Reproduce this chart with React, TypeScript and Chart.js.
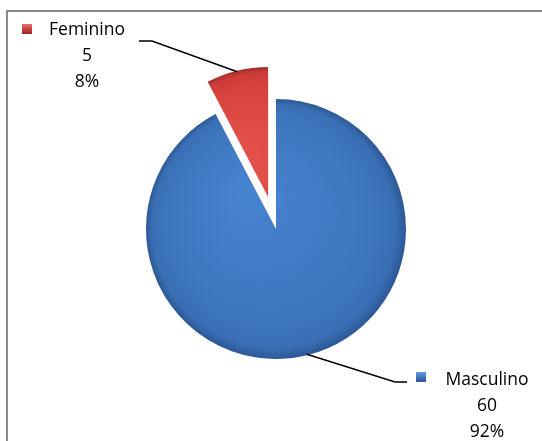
import React, { useEffect, useRef } from 'react';
import { Chart, registerables } from 'chart.js';

Chart.register(...registerables);

// ---- data ----
const categories: string[] = ['Masculino', 'Feminino'];
const values: number[] = [60, 5];

// ---- style ----
const explode: number[] = [0, 33];
const FONT = '17.5px "Open Sans", "Noto Sans", sans-serif';
const LINE_GAP = 26;

const labelLayout = [
  { tx: 487, ty: 385, mx: 416, my: 372, elbowX: 395, elbowY: 382, endX: 407 },
  { tx: 87, ty: 35, mx: 22, my: 24, elbowX: 152, elbowY: 41, endX: 139 },
];

const total = values.reduce((a, b) => a + b, 0);
const midAngle = (i: number) => {
  const before = values.slice(0, i).reduce((a, b) => a + b, 0);
  return -Math.PI / 2 + ((before + values[i] / 2) / total) * Math.PI * 2;
};

function fillFor(ctx: CanvasRenderingContext2D, i: number, cx: number, cy: number, r: number) {
  const g = ctx.createRadialGradient(cx - r * 0.25, cy - r * 0.3, r * 0.05, cx, cy, r);
  if (i === 0) {
    g.addColorStop(0, '#4683cf');
    g.addColorStop(0.75, '#3e76be');
    g.addColorStop(0.93, '#3a6fb4');
    g.addColorStop(1, '#2c5896');
  } else {
    g.addColorStop(0, '#e4524c');
    g.addColorStop(0.75, '#d8433e');
    g.addColorStop(0.93, '#cc3c38');
    g.addColorStop(1, '#a32e2b');
  }
  return g;
}

const explodePlugin = {
  id: 'explodeSlices',
  afterDatasetUpdate(chart: any, args: any) {
    const meta = args.meta;
    meta.data.forEach((el: any, i: number) => {
      const d = explode[i] || 0;
      if (!d) return;
      const a = midAngle(i);
      el.x += Math.cos(a) * d;
      el.y += Math.sin(a) * d;
    });
  },
};

const decorPlugin = {
  id: 'decor',
  afterDraw(chart: any) {
    const ctx: CanvasRenderingContext2D = chart.ctx;
    const meta = chart.getDatasetMeta(0);
    ctx.save();
    // frame
    ctx.strokeStyle = '#8a8a8a';
    ctx.lineWidth = 2;
    ctx.strokeRect(7, 11, 700, 600);

    meta.data.forEach((el: any, i: number) => {
      const lay = labelLayout[i];
      const a = midAngle(i);
      const sx = el.x + Math.cos(a) * (el.outerRadius - 1);
      const sy = el.y + Math.sin(a) * (el.outerRadius - 1);
      // leader line
      ctx.strokeStyle = '#000';
      ctx.lineWidth = 1.5;
      ctx.beginPath();
      ctx.moveTo(sx, sy);
      ctx.lineTo(lay.elbowX, lay.elbowY);
      ctx.lineTo(lay.endX, lay.elbowY);
      ctx.stroke();

      // marker
      const s = 10;
      const g = ctx.createLinearGradient(lay.mx, lay.my, lay.mx, lay.my + s);
      if (i === 0) {
        g.addColorStop(0, '#6b9be0');
        g.addColorStop(0.5, '#3e76be');
        g.addColorStop(1, '#2c5896');
      } else {
        g.addColorStop(0, '#e8706b');
        g.addColorStop(0.5, '#c9403b');
        g.addColorStop(1, '#962a27');
      }
      ctx.fillStyle = g;
      ctx.fillRect(lay.mx, lay.my, s, s);

      // text
      ctx.fillStyle = '#000';
      ctx.font = FONT;
      ctx.textAlign = 'center';
      ctx.textBaseline = 'alphabetic';
      const pct = Math.round((values[i] / total) * 100) + '%';
      const lines = [categories[i], String(values[i]), pct];
      lines.forEach((t, k) => ctx.fillText(t, lay.tx, lay.ty + k * LINE_GAP));
    });
    ctx.restore();
  },
};

export default function App() {
  const ref = useRef<HTMLCanvasElement | null>(null);
  useEffect(() => {
    if (!ref.current) return;
    const chart = new Chart(ref.current, {
      type: 'pie',
      data: {
        labels: categories,
        datasets: [
          {
            data: values,
            borderWidth: 0,
            backgroundColor: (c: any) => {
              const ch = c.chart;
              const area = ch.chartArea;
              const i = c.dataIndex ?? 0;
              if (!area) return i === 0 ? '#3e76be' : '#d8433e';
              const r = Math.min(area.right - area.left, area.bottom - area.top) / 2;
              const a = midAngle(i);
              const d = explode[i] || 0;
              const cx = (area.left + area.right) / 2 + Math.cos(a) * d;
              const cy = (area.top + area.bottom) / 2 + Math.sin(a) * d;
              return fillFor(ch.ctx, i, cx, cy, r);
            },
          },
        ],
      },
      options: {
        animation: false,
        responsive: false,
        layout: { padding: { left: 146, right: 136, top: 99, bottom: 82 } },
        plugins: {
          legend: { display: false },
          tooltip: { enabled: false },
        },
      },
      plugins: [explodePlugin, decorPlugin],
    });
    return () => chart.destroy();
  }, []);
  return (
    <div style={{ position: 'absolute', left: 0, top: 0, width: 542, height: 441, background: '#fff' }}>
      <canvas ref={ref} width={542} height={441} style={{ display: 'block' }} />
    </div>
  );
}
